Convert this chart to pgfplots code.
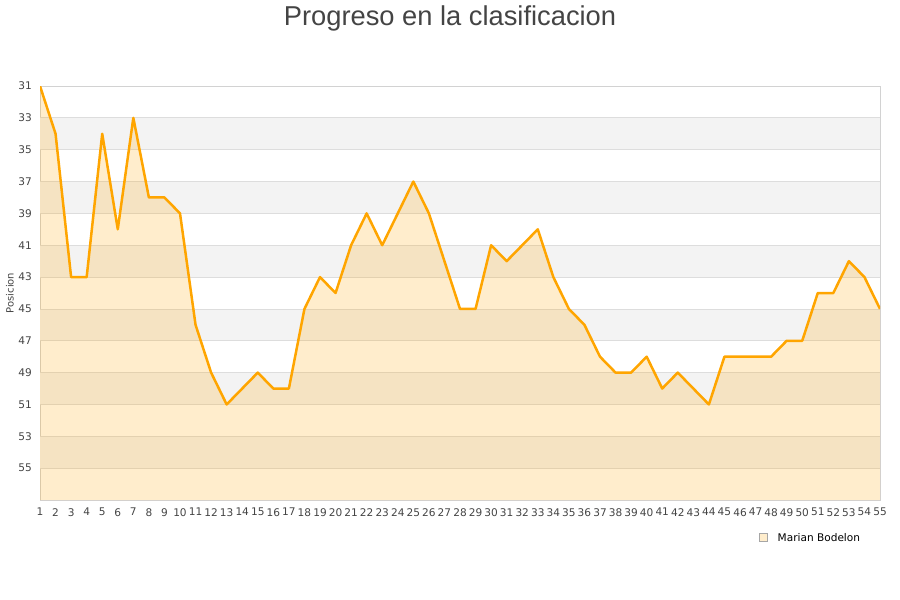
\documentclass[border=0pt]{standalone}
\usepackage{pgfplots}
\pgfplotsset{compat=1.18}
\usepackage{pgfplotstable}
\usepackage{fontspec}
\setmainfont{DejaVu Sans}
\newfontfamily\titlefont{Liberation Sans}
\definecolor{lineor}{RGB}{255,165,0}
\definecolor{bandgray}{RGB}{243,243,243}
\definecolor{gridgray}{RGB}{221,221,221}
\definecolor{framegray}{RGB}{210,210,210}
\definecolor{txt}{RGB}{68,68,68}
\pgfplotstableread{
x y
1 31
2 34
3 43
4 43
5 34
6 40
7 33
8 38
9 38
10 39
11 46
12 49
13 51
14 50
15 49
16 50
17 50
18 45
19 43
20 44
21 41
22 39
23 41
24 39
25 37
26 39
27 42
28 45
29 45
30 41
31 42
32 41
33 40
34 43
35 45
36 46
37 48
38 49
39 49
40 48
41 50
42 49
43 50
44 51
45 48
46 48
47 48
48 48
49 47
50 47
51 44
52 44
53 42
54 43
55 45
}\datatable
\begin{document}
\begin{tikzpicture}
\useasboundingbox (-40bp,-100bp) rectangle (860bp,500bp);
\begin{axis}[
  at={(0,0)}, anchor=south west,
  scale only axis,
  width=840bp, height=414bp,
  xmin=1, xmax=55, ymin=31, ymax=57,
  y dir=reverse,
  xtick={1,...,55},
  ytick={31,33,...,55},
  major tick length=0pt,
  axis line style={framegray, line width=0.8bp},
  tick label style={font=\fontsize{10.6}{12}\selectfont, text=txt},
  /pgf/number format/assume math mode=true,
  xticklabel style={inner sep=0bp, anchor=north, yshift=-8bp},
  yticklabel style={inner sep=0bp, anchor=east, xshift=-8bp},
]
\fill[bandgray] (axis cs:1,33) rectangle (axis cs:55,35);
\fill[bandgray] (axis cs:1,37) rectangle (axis cs:55,39);
\fill[bandgray] (axis cs:1,41) rectangle (axis cs:55,43);
\fill[bandgray] (axis cs:1,45) rectangle (axis cs:55,47);
\fill[bandgray] (axis cs:1,49) rectangle (axis cs:55,51);
\fill[bandgray] (axis cs:1,53) rectangle (axis cs:55,55);
\pgfplotsinvokeforeach{33,35,37,39,41,43,45,47,49,51,53,55}{
  \draw[gridgray, line width=0.8bp] (axis cs:1,#1) -- (axis cs:55,#1);
}
\addplot[fill=lineor, fill opacity=0.2, draw=none] table[x=x,y=y] {\datatable} -- (axis cs:55,57) -- (axis cs:1,57) -- cycle;
\addplot[lineor, line width=2.5bp, line join=round] table[x=x,y=y] {\datatable};
\end{axis}
\node[rotate=90, font=\fontsize{10}{12}\selectfont, text=txt] at (-30bp,207bp) {Posicion};
\node[font=\titlefont\fontsize{27.4}{31}\selectfont, text=txt] at (410bp,482bp) {Progreso en la clasificacion};
\fill[fill=lineor!20, draw=gray!70, line width=0.6bp] (719bp,-41.5bp) rectangle (727bp,-33.5bp);
\node[anchor=west, font=\fontsize{10.6}{12}\selectfont, text=black, inner sep=0pt] at (737.5bp,-37.5bp) {Marian Bodelon};
\end{tikzpicture}
\end{document}
